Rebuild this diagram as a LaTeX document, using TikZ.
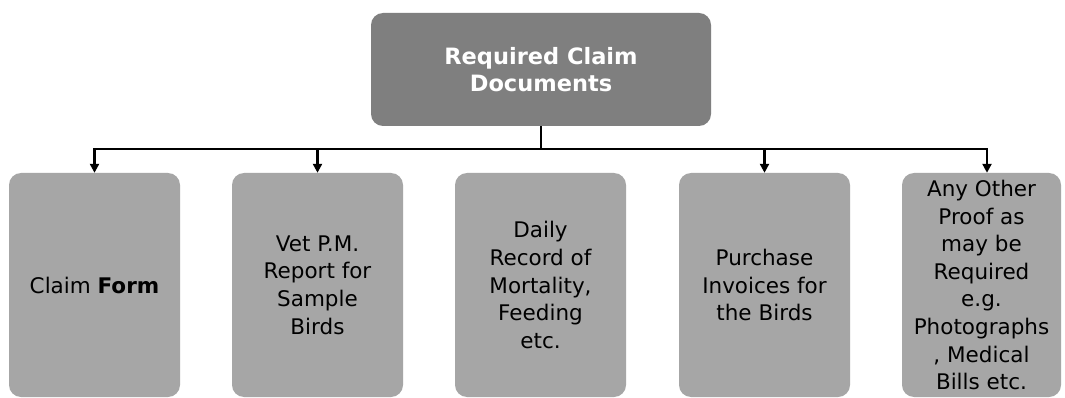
\documentclass[tikz,border=0pt]{standalone}
\usepackage{fontspec}
\setmainfont{DejaVu Sans}
\usetikzlibrary{arrows.meta}
\definecolor{topgray}{HTML}{7F7F7F}
\definecolor{boxgray}{HTML}{A6A6A6}
\tikzset{
  topbox/.style={rectangle, rounded corners=12pt, fill=topgray, draw=none,
    minimum width=340pt, minimum height=113pt, text=white, align=center,
    font=\bfseries\fontsize{22.5}{27}\selectfont, inner sep=0pt},
  docbox/.style={rectangle, rounded corners=12pt, fill=boxgray, draw=none,
    minimum width=171pt, minimum height=224pt, text=black, align=center,
    font=\fontsize{21.5}{27.6}\selectfont, inner sep=0pt},
  conn/.style={line width=2.4pt, black},
  arr/.style={conn, -{Triangle[length=9pt,width=9pt]}}
}
\begin{document}
\begin{tikzpicture}[x=1pt,y=-1pt]
\clip (0,0) rectangle (1065,398);
\fill[white] (0,0) rectangle (1065,398);
\node[topbox] (top) at (541,69.5) {Required Claim\\Documents};
\node[docbox] (b1) at (94.5,285) {Claim \textbf{Form}};
\node[docbox] (b2) at (317.5,285) {Vet P.M.\\Report for\\Sample\\Birds};
\node[docbox] (b3) at (540.5,285) {Daily\\Record of\\Mortality,\\Feeding\\etc.};
\node[docbox] (b4) at (764.5,285) {Purchase\\Invoices for\\the Birds};
\node[docbox, minimum width=159pt] (b5) at (981.5,285) {Any Other\\Proof as\\may be\\Required\\e.g.\\Photographs\\, Medical\\Bills etc.};
\coordinate (j) at (top.south |- 0,149);
\coordinate (l) at (b1.north |- 0,149);
\coordinate (r) at (987,149);
\draw[conn] (top.south) -- (j);
\draw[conn, line cap=rect] (l) -- (r);
\draw[arr] (l) -- (b1.north);
\draw[arr] (b2.north |- 0,149) -- (b2.north);
\draw[arr] (b4.north |- 0,149) -- (b4.north);
\draw[arr] (r) -- (r |- b5.north);
\end{tikzpicture}
\end{document}
